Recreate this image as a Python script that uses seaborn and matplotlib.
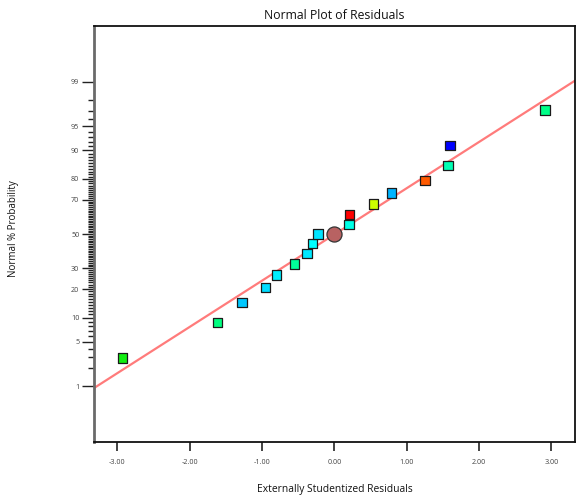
import numpy as np
import pandas as pd
import matplotlib
matplotlib.use("Agg")
import matplotlib.pyplot as plt
import seaborn as sns
from statistics import NormalDist

# ---- data ----
residuals = [-2.93, -1.62, -1.28, -0.95, -0.80, -0.55, -0.38, -0.30, -0.23,
             0.20, 0.21, 0.54, 0.79, 1.25, 1.57, 1.60, 2.91]
probabilities = [2.9, 8.8, 14.7, 20.6, 26.5, 32.4, 38.2, 44.1, 50.0,
                 55.9, 61.8, 67.6, 73.5, 79.4, 85.3, 91.2, 97.1]
point_colors = ["#12ee12", "#00ff80", "#00c8ff", "#00dcff", "#00eeff", "#00ff99",
                "#00e8ff", "#00ffff", "#00e4ff", "#00ffe6", "#ff0000", "#ccff00",
                "#00b4ff", "#ff5a00", "#00ffb4", "#0000ff", "#00ff88"]
center_x = [0.0]
center_p = [50.0]
fit_slope = 0.7067
fit_intercept = -0.0055
y_major = [1, 5, 10, 20, 30, 50, 70, 80, 90, 95, 99]
y_minor = list(range(1, 100))
x_ticks = [-3.0, -2.0, -1.0, 0.0, 1.0, 2.0, 3.0]

nd = NormalDist()
_ppf = np.vectorize(nd.inv_cdf, otypes=[float])
_cdf = np.vectorize(nd.cdf, otypes=[float])

def fwd(p):
    p = np.clip(np.asarray(p, dtype=float) / 100.0, 1e-9, 1 - 1e-9)
    return _ppf(p)

def inv(z):
    z = np.asarray(z, dtype=float)
    return _cdf(z) * 100.0

sns.set_style("ticks")
plt.rcParams["font.family"] = ["Open Sans", "DejaVu Sans"]

fig = plt.figure(figsize=(5.77, 4.98), dpi=100)
ax = fig.add_axes([0.163, 0.1124, 0.8335, 0.8354])
ax.set_yscale("function", functions=(fwd, inv))

xlim = (-3.324, 3.325)
zlim = 3.18
ax.set_xlim(*xlim)
ax.set_ylim(nd.cdf(-zlim) * 100, nd.cdf(zlim) * 100)

# fit line
line_x = list(xlim)
line_p = [nd.cdf(fit_intercept + fit_slope * x) * 100 for x in line_x]
sns.lineplot(x=line_x, y=line_p, ax=ax, color="#ff7b7b", linewidth=1.6, zorder=2)

df = pd.DataFrame({"res": residuals, "prob": probabilities,
                   "id": [str(i) for i in range(len(residuals))]})
palette = {str(i): c for i, c in enumerate(point_colors)}
sns.scatterplot(data=df, x="res", y="prob", hue="id", palette=palette, marker="s",
                s=46, edgecolor="#1a1a1a", linewidth=0.9, legend=False, ax=ax, zorder=3)

sns.scatterplot(x=center_x, y=center_p, ax=ax, marker="o", s=118, color="#b86262",
                edgecolor="#333333", linewidth=0.9, zorder=4, legend=False)

ax.set_xlim(*xlim)
ax.set_ylim(nd.cdf(-zlim) * 100, nd.cdf(zlim) * 100)
ax.set_yticks(y_major)
ax.set_yticklabels([str(v) for v in y_major])
ax.set_yticks([v for v in y_minor if v not in y_major], minor=True)
ax.set_xticks(x_ticks)
ax.set_xticklabels([f"{v:.2f}" for v in x_ticks])

ax.tick_params(axis="y", which="major", length=8.6, width=1.0, color="#222222",
               labelsize=5.2, labelcolor="#444444", pad=2)
ax.tick_params(axis="y", which="minor", length=4.3, width=1.0, color="#222222")
ax.tick_params(axis="x", which="major", length=6.5, width=1.2, color="#222222",
               labelsize=5.2, labelcolor="#444444", pad=6)
ax.tick_params(axis="x", which="minor", length=0)

for side in ["top", "right", "bottom"]:
    ax.spines[side].set_visible(True)
    ax.spines[side].set_linewidth(1.3)
    ax.spines[side].set_color("#111111")
ax.spines["left"].set_linewidth(2.0)
ax.spines["left"].set_color("#6a6a6a")

ax.set_title("Normal Plot of Residuals", fontsize=8.8, color="#111111", pad=5)
ax.set_xlabel("Externally Studentized Residuals", fontsize=7.4, color="#111111", labelpad=13)
ax.set_ylabel("")
fig.text(0.024, 0.54, "Normal % Probability", rotation=90, fontsize=7,
         color="#111111", ha="center", va="center")

fig.savefig("out.png", dpi=100)
